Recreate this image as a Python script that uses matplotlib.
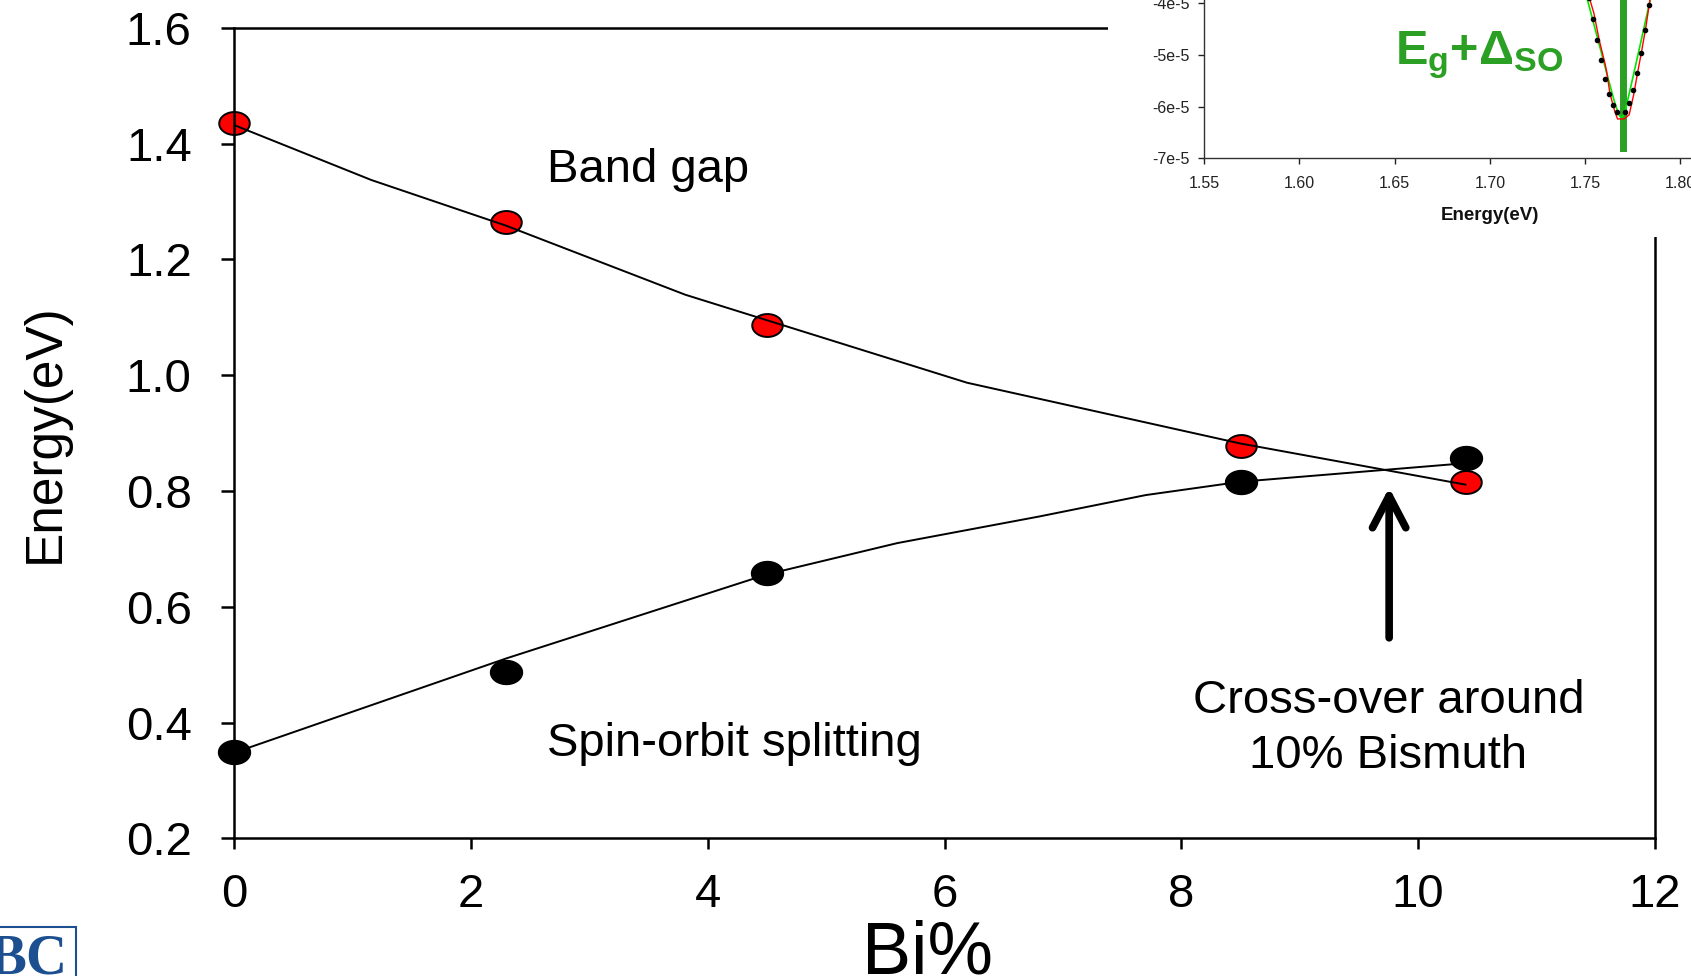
import numpy as np
import matplotlib
matplotlib.use('Agg')
import matplotlib.pyplot as plt
from matplotlib.path import Path
from matplotlib.patches import Rectangle

plt.rcParams['font.family'] = ['Liberation Sans', 'DejaVu Sans']
plt.rcParams['mathtext.default'] = 'regular'

# measured points (Bi %, energy in eV)
bi = [0, 2.3, 4.5, 8.5, 10.4]
band_gap = [1.435, 1.265, 1.087, 0.877, 0.816]
spin_orbit = [0.350, 0.488, 0.658, 0.816, 0.857]

# fitted curves as drawn
gap_fit_x = [0, 1.16, 2.3, 3.81, 6.19, 8.5, 10.4]
gap_fit_y = [1.432, 1.337, 1.258, 1.139, 0.987, 0.882, 0.811]
so_fit_x = [0, 2.3, 4.5, 5.6, 6.8, 7.7, 8.5, 10.4]
so_fit_y = [0.348, 0.511, 0.656, 0.710, 0.756, 0.793, 0.816, 0.848]

x_ticks = [0, 2, 4, 6, 8, 10, 12]
y_ticks = [0.2, 0.4, 0.6, 0.8, 1.0, 1.2, 1.4, 1.6]
y_tick_labels = ['0.2', '0.4', '0.6', '0.8', '1.0', '1.2', '1.4', '1.6']

# inset: piece of a PR spectrum (energy eV, signal in 1e-5)
dots_e = [1.7518, 1.7539, 1.7564, 1.7583, 1.7604, 1.7625, 1.7646, 1.7667,
          1.7710, 1.7731, 1.7751, 1.7772, 1.7793, 1.7814, 1.7835, 1.7856]
dots_v = [-3.90, -4.32, -4.72, -5.11, -5.46, -5.75, -5.97, -6.11,
          -6.11, -5.94, -5.68, -5.36, -4.96, -4.52, -4.05, -3.60]
red_e = [1.7510, 1.7525, 1.7546, 1.7574, 1.7604, 1.7613, 1.7630, 1.7656, 1.7670,
         1.7705, 1.7731, 1.7756, 1.7773, 1.7796, 1.7819, 1.7836, 1.7850]
red_v = [-3.70, -3.94, -4.20, -4.72, -5.17, -5.33, -5.75, -6.10, -6.24,
         -6.24, -6.16, -5.75, -5.39, -4.94, -4.46, -4.04, -3.70]
green_e = [1.749, 1.753, 1.757, 1.761, 1.765, 1.7675, 1.769, 1.7705, 1.773,
           1.777, 1.781, 1.785, 1.788]
green_v = [-3.64, -4.19, -4.75, -5.31, -5.86, -6.15, -6.22, -6.15, -5.77,
           -5.12, -4.46, -3.80, -3.31]
peak_e = 1.77
inset_x_ticks = [1.55, 1.60, 1.65, 1.70, 1.75, 1.80]
inset_x_labels = ['1.55', '1.60', '1.65', '1.70', '1.75', '1.80']
inset_y_ticks = [-7, -6, -5, -4, -3]
inset_y_labels = ['-7e-5', '-6e-5', '-5e-5', '-4e-5', '-3e-5']

fig = plt.figure(figsize=(16.91, 9.76), dpi=100)

# main axes
ax = fig.add_axes([0.1384, 0.1409, 0.8403, 0.8307])
ax.set_zorder(1)

# oval markers
t = np.linspace(0, 2 * np.pi, 60)
oval = Path(np.column_stack([np.cos(t), 0.75 * np.sin(t)]), closed=True)

ax.plot(bi, band_gap, linestyle='none', marker=oval, markersize=22,
        markerfacecolor='#ff0000', markeredgecolor='black', markeredgewidth=1.4,
        clip_on=False, zorder=2)
ax.plot(bi, spin_orbit, linestyle='none', marker=oval, markersize=23,
        markerfacecolor='black', markeredgecolor='black',
        clip_on=False, zorder=2)
ax.plot(gap_fit_x, gap_fit_y, color='black', lw=1.4, zorder=3)
ax.plot(so_fit_x, so_fit_y, color='black', lw=1.4, zorder=3)

ax.set_xlim(0, 12)
ax.set_ylim(0.2, 1.6)
ax.set_xticks(x_ticks)
ax.set_xticklabels([str(v) for v in x_ticks])
ax.set_yticks(y_ticks)
ax.set_yticklabels(y_tick_labels)
ax.tick_params(axis='x', direction='out', length=8, width=1.8, pad=17, labelsize=34)
ax.tick_params(axis='y', direction='out', length=9.5, width=1.8, pad=21, labelsize=34)
for sp in ax.spines.values():
    sp.set_linewidth(1.8)

ax.set_xlabel('Bi%', fontsize=53)
ax.xaxis.label.set_va('baseline')
ax.xaxis.set_label_coords(0.4877, -0.166)
ax.set_ylabel('Energy(eV)', fontsize=37)
ax.yaxis.label.set_va('center')
ax.yaxis.set_label_coords(-0.133, 0.5)

ax.text(2.64, 1.355, 'Band gap', fontsize=34, ha='left', va='center')
ax.text(2.64, 0.364, 'Spin-orbit splitting', fontsize=34, ha='left', va='center')
ax.text(9.75, 0.390, 'Cross-over around\n10% Bismuth', fontsize=34,
        ha='center', va='center', linespacing=1.3)
ax.annotate('', xy=(9.755, 0.806), xytext=(9.755, 0.5465),
            arrowprops=dict(arrowstyle='->, head_length=2.3, head_width=1.2',
                            lw=5.5, color='black', shrinkA=0, shrinkB=0))

# white patch where the pasted inset sits
fig.add_artist(Rectangle((0.6552, 0.7572), 0.3448, 0.2428, transform=fig.transFigure,
                         facecolor='white', edgecolor='none', zorder=2))

# inset
ins = fig.add_axes([0.7120, 0.8378, 0.3381, 0.2654])
ins.set_zorder(3)
ins.plot(green_e, green_v, color='#00e600', lw=1.2, zorder=2)
ins.plot(red_e, red_v, color='#ff0000', lw=1.0, zorder=3)
ins.plot(dots_e, dots_v, linestyle='none', marker='o', markersize=3,
         color='black', zorder=4)
ins.plot([peak_e, peak_e], [-6.8, -2.0], color='#2ba024', lw=5, zorder=1)
ins.set_xlim(1.55, 1.85)
ins.set_ylim(-7, -2)
ins.set_xticks(inset_x_ticks)
ins.set_xticklabels(inset_x_labels)
ins.set_yticks(inset_y_ticks)
ins.set_yticklabels(inset_y_labels)
ins.tick_params(direction='out', length=4, width=1, labelsize=11.5,
                colors='#222222')
ins.tick_params(axis='x', pad=9)
ins.tick_params(axis='y', pad=6)
ins.spines['top'].set_visible(False)
ins.spines['right'].set_visible(False)
for side in ['left', 'bottom']:
    ins.spines[side].set_color('#333333')
    ins.spines[side].set_linewidth(1.0)
ins.set_xlabel('Energy(eV)', fontsize=13.5, fontweight='bold', color='#111111')
ins.xaxis.label.set_va('top')
ins.xaxis.set_label_coords(0.5, -0.188)

fig.text(1395 / 1691, (976 - 64) / 976, 'E$_g$+Δ$_{SO}$', fontsize=35,
         fontweight='bold', color='#2ba024', ha='left', va='baseline', zorder=4)

# partial logo in the corner
fig.text(67 / 1691, 3 / 976, 'BC', fontsize=41, family='Liberation Serif',
         fontweight='bold', color='#1c4f8f', ha='right', va='baseline')
fig.add_artist(Rectangle((-0.01, -0.01), 76 / 1691 + 0.01, (976 - 927) / 976 + 0.01,
                         transform=fig.transFigure, facecolor='none',
                         edgecolor='#1c4f8f', lw=1.5))

fig.savefig('out.png', dpi=100)
